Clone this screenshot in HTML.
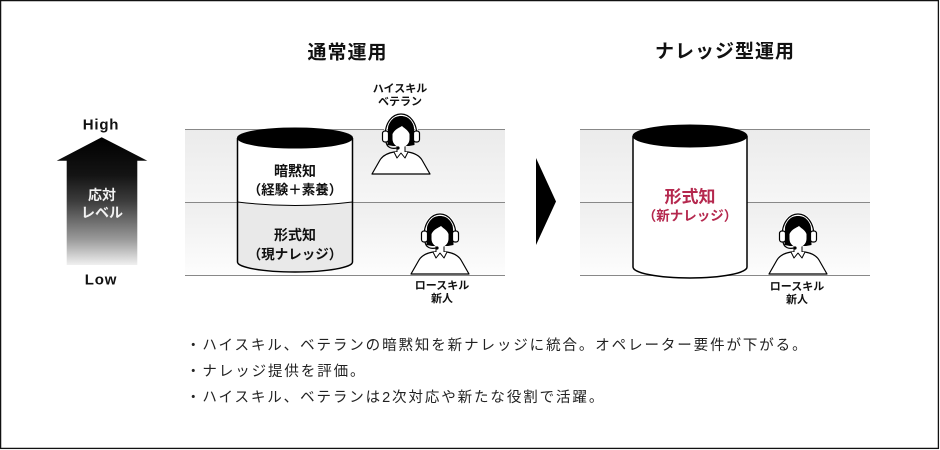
<!DOCTYPE html>
<html lang="ja">
<head>
<meta charset="utf-8">
<style>
  html,body{margin:0;padding:0;background:#fff;}
  body{width:940px;height:450px;overflow:hidden;}
  svg{display:block;}
  text{font-family:"Liberation Sans","Noto Sans CJK JP",sans-serif;}
</style>
</head>
<body>
<svg width="940" height="450" viewBox="0 0 940 450" xmlns="http://www.w3.org/2000/svg">
  <defs>
    <linearGradient id="bandTop" x1="0" y1="0" x2="0" y2="1">
      <stop offset="0" stop-color="#ebebeb"/>
      <stop offset="1" stop-color="#f6f6f6"/>
    </linearGradient>
    <linearGradient id="bandBot" x1="0" y1="0" x2="0" y2="1">
      <stop offset="0" stop-color="#eeeeee"/>
      <stop offset="1" stop-color="#fdfdfd"/>
    </linearGradient>
    <linearGradient id="arrowGrad" gradientUnits="userSpaceOnUse" x1="0" y1="137" x2="0" y2="265">
      <stop offset="0" stop-color="#000"/>
      <stop offset="0.3" stop-color="#141414"/>
      <stop offset="0.5" stop-color="#3c3c3c"/>
      <stop offset="0.8" stop-color="#9a9a9a"/>
      <stop offset="1" stop-color="#f0f0f0"/>
    </linearGradient>
    <g id="person">
      <path d="M1,61 L9,47 C12,42 17,40 23,39 L37,39 C43,40 48,42 51,47 L59,61 Z" fill="#fff" stroke="#000" stroke-width="1.2" stroke-linejoin="round"/>
      <rect x="26" y="31" width="8" height="9" fill="#fff"/>
      <path d="M26,32 L26,40 M34,32 L34,40" stroke="#000" stroke-width="1"/>
      <path d="M23,39 L26,45 L30,40 L34,45 L37,39" fill="#fff" stroke="#000" stroke-width="1" stroke-linejoin="round"/>
      <path d="M16.5,32 L17,16 C17,8 23,3 30,3 C37,3 43,8 43,16 L43.5,32 L38,33 L22,33 Z" fill="#000"/>
      <path d="M21.5,21 C24,16 28,15 31,13 C34,16 37,17 38.5,21 L38.5,26 C38.5,31 34,34.5 30,34.5 C26,34.5 21.5,31 21.5,26 Z" fill="#fff"/>
      <path d="M14,25 C13,-7 47,-7 46,25" fill="none" stroke="#fff" stroke-width="3"/>
      <path d="M14,25 C13,-7 47,-7 46,25" fill="none" stroke="#000" stroke-width="1.2"/>
      <rect x="11.5" y="18" width="6" height="11" rx="2.5" fill="#fff" stroke="#000" stroke-width="1.2"/>
      <rect x="42.5" y="18" width="6" height="11" rx="2.5" fill="#fff" stroke="#000" stroke-width="1.2"/>
      <path d="M15,29 C16,35 21,36 26,35" fill="none" stroke="#000" stroke-width="1.2"/>
      <circle cx="27" cy="35" r="1.6" fill="#000"/>
    </g>
  </defs>

  <rect x="0.6" y="0.6" width="937.8" height="447.8" fill="#fff" stroke="#111" stroke-width="1.3"/>

  <text x="347.5" y="53" text-anchor="middle" dominant-baseline="central" font-size="19" font-weight="bold" letter-spacing="1" fill="#111">通常運用</text>
  <text x="725" y="52" text-anchor="middle" dominant-baseline="central" font-size="19" font-weight="bold" letter-spacing="1" fill="#111">ナレッジ型運用</text>

  <text x="101" y="125" text-anchor="middle" dominant-baseline="central" font-size="15" font-weight="bold" letter-spacing="0.8" fill="#111">High</text>
  <polygon points="101.7,137.3 147.3,160.7 137.3,160.7 137.3,265 66.7,265 66.7,160.7 56.7,160.7" fill="url(#arrowGrad)"/>
  <text x="102" y="195" text-anchor="middle" dominant-baseline="central" font-size="14" font-weight="bold" fill="#f2f2f2">応対</text>
  <text x="102" y="212.5" text-anchor="middle" dominant-baseline="central" font-size="14" font-weight="bold" fill="#f2f2f2">レベル</text>
  <text x="101" y="280" text-anchor="middle" dominant-baseline="central" font-size="15" font-weight="bold" letter-spacing="0.8" fill="#111">Low</text>

  <rect x="185" y="129" width="320" height="73" fill="url(#bandTop)"/>
  <rect x="185" y="202" width="320" height="73.5" fill="url(#bandBot)"/>
  <path d="M185,129.5 H505 M185,202.5 H505 M185,275.5 H505" stroke="#888" stroke-width="1"/>

  <path d="M237.5,138 L352.5,138 L352.5,202 Q295,209 237.5,202 Z" fill="#fff"/>
  <path d="M237.5,202 Q295,209 352.5,202 L352.5,262 A57.5,10 0 0 1 237.5,262 Z" fill="#e9e9e9"/>
  <path d="M237.5,202 Q295,209 352.5,202" fill="none" stroke="#000" stroke-width="1"/>
  <path d="M237.5,138 L237.5,262 A57.5,10 0 0 0 352.5,262 L352.5,138" fill="none" stroke="#000" stroke-width="1.5"/>
  <ellipse cx="295" cy="138" rx="57.5" ry="10" fill="#000" stroke="#000" stroke-width="1"/>
  <text x="295" y="171" text-anchor="middle" dominant-baseline="central" font-size="14" font-weight="bold" fill="#111">暗黙知</text>
  <text x="295" y="190" text-anchor="middle" dominant-baseline="central" font-size="13.5" font-weight="bold" fill="#111">（経験＋素養）</text>
  <text x="295" y="235" text-anchor="middle" dominant-baseline="central" font-size="14" font-weight="bold" fill="#111">形式知</text>
  <text x="295" y="254.5" text-anchor="middle" dominant-baseline="central" font-size="13.5" font-weight="bold" fill="#111">（現ナレッジ）</text>

  <text x="400" y="89" text-anchor="middle" dominant-baseline="central" font-size="11" font-weight="bold" fill="#111">ハイスキル</text>
  <text x="400" y="102" text-anchor="middle" dominant-baseline="central" font-size="11" font-weight="bold" fill="#111">ベテラン</text>
  <use href="#person" x="371" y="113"/>
  <use href="#person" x="410" y="213"/>
  <text x="442" y="286" text-anchor="middle" dominant-baseline="central" font-size="11" font-weight="bold" fill="#111">ロースキル</text>
  <text x="442" y="299" text-anchor="middle" dominant-baseline="central" font-size="11" font-weight="bold" fill="#111">新人</text>

  <polygon points="536,158 556,201.5 536,245" fill="#000"/>

  <rect x="580" y="129" width="290" height="73" fill="url(#bandTop)"/>
  <rect x="580" y="202" width="290" height="73.5" fill="url(#bandBot)"/>
  <path d="M580,129.5 H870 M580,202.5 H870 M580,275.5 H870" stroke="#888" stroke-width="1"/>

  <path d="M633,136 L747,136 L747,267 A57,11 0 0 1 633,267 Z" fill="#fff"/>
  <path d="M633,136 L633,267 A57,11 0 0 0 747,267 L747,136" fill="none" stroke="#000" stroke-width="1.5"/>
  <ellipse cx="690" cy="136" rx="57" ry="11" fill="#000" stroke="#000" stroke-width="1"/>
  <text x="690" y="197" text-anchor="middle" dominant-baseline="central" font-size="17" font-weight="bold" fill="#b5284e">形式知</text>
  <text x="690" y="216" text-anchor="middle" dominant-baseline="central" font-size="13.5" font-weight="bold" fill="#b5284e">（新ナレッジ）</text>

  <use href="#person" x="768" y="213"/>
  <text x="797" y="287" text-anchor="middle" dominant-baseline="central" font-size="11" font-weight="bold" fill="#111">ロースキル</text>
  <text x="797" y="300" text-anchor="middle" dominant-baseline="central" font-size="11" font-weight="bold" fill="#111">新人</text>

  <text x="186" y="346" dominant-baseline="central" font-size="14.5" letter-spacing="1.9" fill="#222">・ハイスキル、ベテランの暗黙知を新ナレッジに統合。オペレーター要件が下がる。</text>
  <text x="186" y="372" dominant-baseline="central" font-size="14.5" letter-spacing="1.9" fill="#222">・ナレッジ提供を評価。</text>
  <text x="186" y="398" dominant-baseline="central" font-size="14.5" letter-spacing="1.9" fill="#222">・ハイスキル、ベテランは2次対応や新たな役割で活躍。</text>
</svg>
</body>
</html>
